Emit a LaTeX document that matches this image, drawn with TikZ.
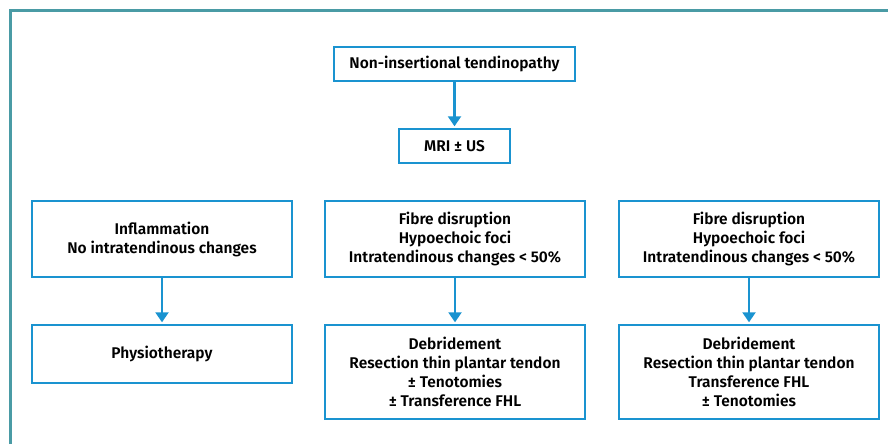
\documentclass[tikz,border=0pt]{standalone}
\usepackage{fontspec}
\setmainfont{Fira Sans}[BoldFont={Fira Sans SemiBold}]
\usetikzlibrary{arrows.meta}
\definecolor{frameteal}{HTML}{4A9BA5}
\definecolor{boxblue}{HTML}{1A93D0}
\begin{document}
\begin{tikzpicture}[x=1pt,y=-1pt,
  box/.style={draw=boxblue,line width=1.4pt,align=center,font=\fontsize{15.5}{19}\selectfont\bfseries,inner sep=0pt},
  conn/.style={draw=boxblue,line width=2.2pt,shorten >=2pt,-{Triangle[length=10pt,width=13pt]}}]
\useasboundingbox (0,0) rectangle (888,444);
\draw[frameteal,line width=3pt] (10,444) -- (10,11) -- (888,11);
\node[box,minimum width=241pt,minimum height=34pt] (top) at (454.5,64) {Non-insertional tendinopathy};
\node[box,minimum width=111pt,minimum height=34pt] (mri) at (454.5,146) {MRI ± US};
\node[box,minimum width=260pt,minimum height=76pt] (l1) at (162,239) {Inflammation\\No intratendinous changes};
\node[box,minimum width=260pt,minimum height=58pt] (l2) at (162,354) {Physiotherapy};
\node[box,minimum width=260pt,minimum height=76pt] (m1) at (455,239) {Fibre disruption\\Hypoechoic foci\\Intratendinous changes < 50\%};
\node[box,minimum width=260pt,minimum height=94pt] (m2) at (455,372) {Debridement\\Resection thin plantar tendon\\± Tenotomies\\± Transference FHL};
\node[box,minimum width=260pt,minimum height=76pt] (r1) at (749,239) {Fibre disruption\\Hypoechoic foci\\Intratendinous changes < 50\%};
\node[box,minimum width=260pt,minimum height=94pt] (r2) at (749,372) {Debridement\\Resection thin plantar tendon\\Transference FHL\\± Tenotomies};
\draw[conn] (top) -- (mri);
\draw[conn] (l1) -- (l2);
\draw[conn] (m1) -- (m2);
\draw[conn] (r1) -- (r2);
\end{tikzpicture}
\end{document}
